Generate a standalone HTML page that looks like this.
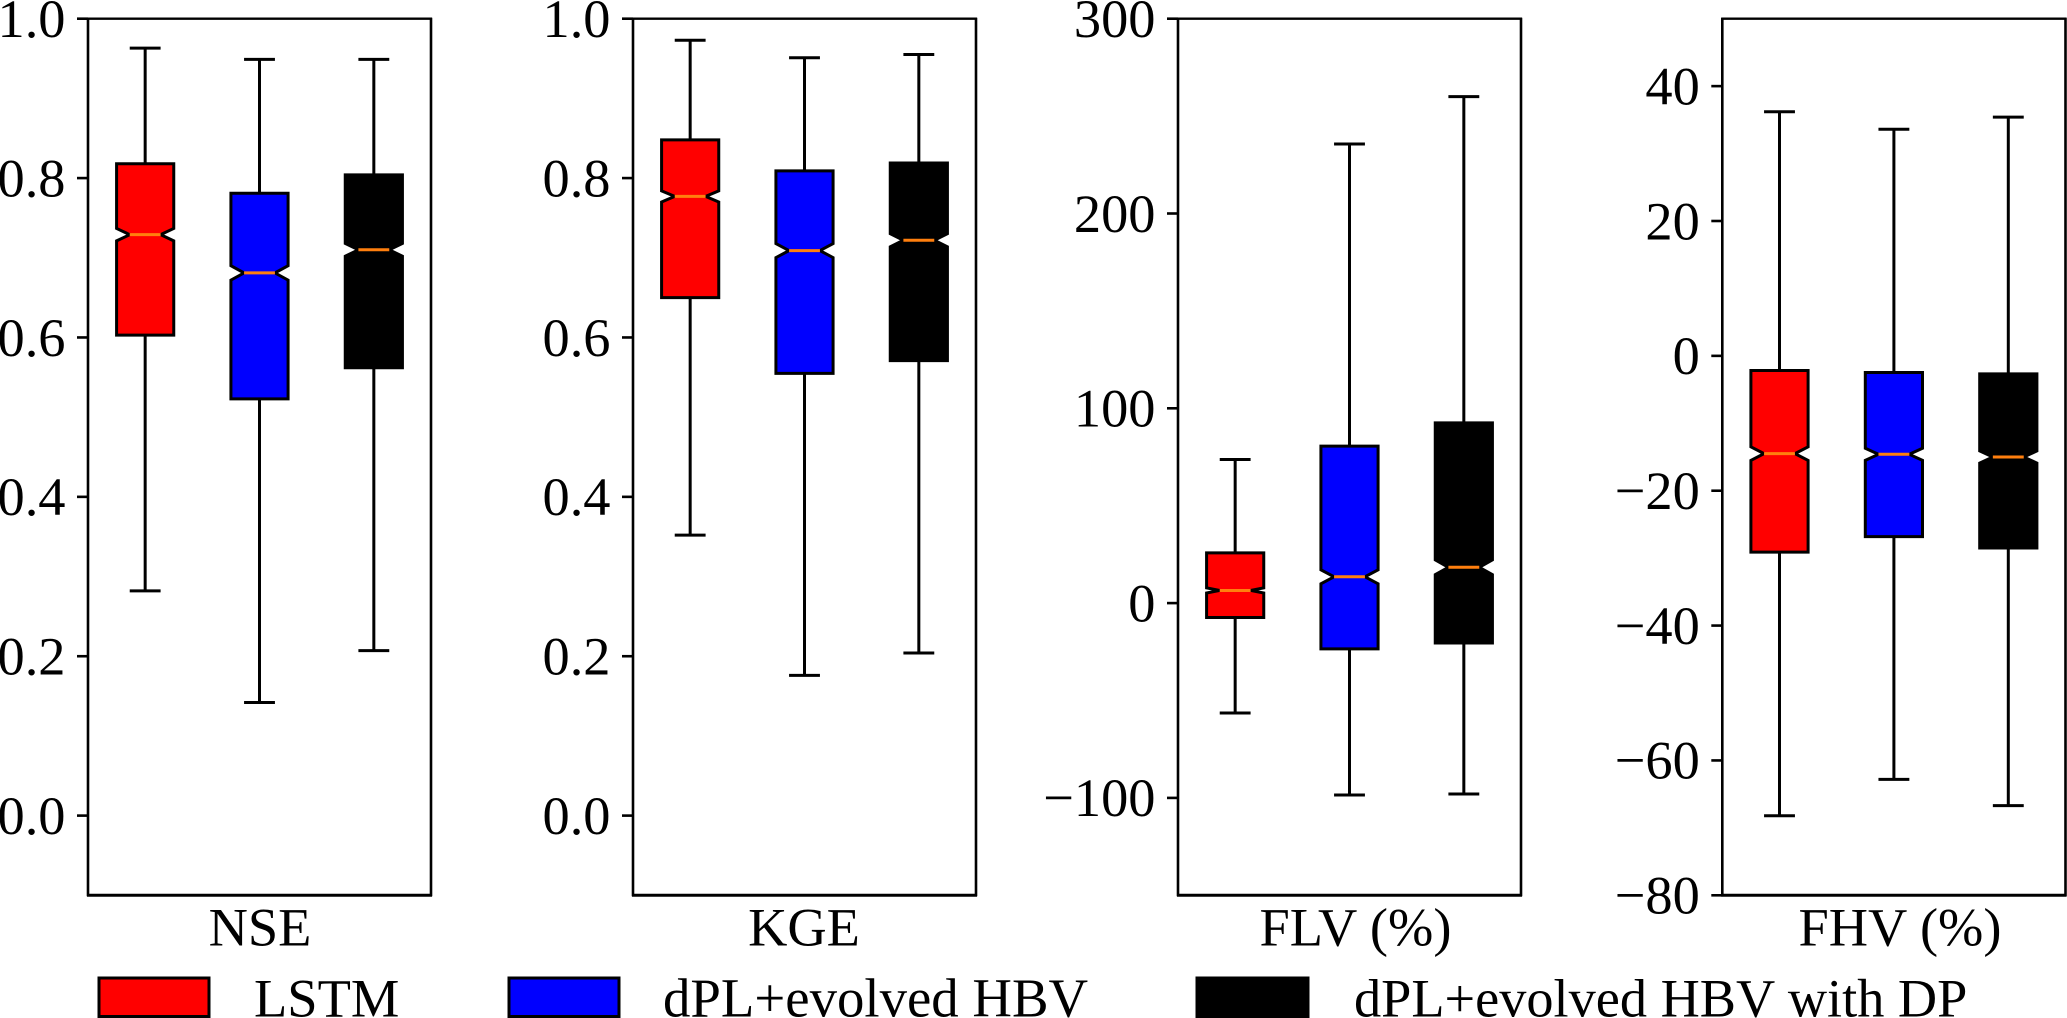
<!DOCTYPE html>
<html lang="en">
<head>
<meta charset="utf-8">
<title>Model metric box plots</title>
<style>
  html, body { margin: 0; padding: 0; background: #fff; width: 2067px; height: 1018px; overflow: hidden; }
  svg { display: block; }
  text { font-family: "Liberation Serif", "Times New Roman", serif; font-size: 54.4px; fill: #000; }
</style>
</head>
<body>
<svg id="chart" xmlns="http://www.w3.org/2000/svg" width="2067" height="1018" viewBox="0 0 2067 1018">
  <rect x="0" y="0" width="2067" height="1018" fill="#fff"/>
  <g id="panels"></g>

  <text x="260" y="945.5" text-anchor="middle">NSE</text>
  <text x="804" y="945.5" text-anchor="middle">KGE</text>
  <text x="1355.5" y="945.5" text-anchor="middle">FLV (%)</text>
  <text x="1900" y="945.5" text-anchor="middle">FHV (%)</text>

  <g>
    <g>
      <rect x="99" y="978" width="110" height="38.5" fill="#ff0000" stroke="#000" stroke-width="3"/>
      <text x="254" y="1016.5" style="font-size:54.5px">LSTM</text>
    </g>
    <g>
      <rect x="509" y="978" width="110" height="38.5" fill="#0000ff" stroke="#000" stroke-width="3"/>
      <text x="663" y="1016.5" style="font-size:54.8px">dPL+evolved HBV</text>
    </g>
    <g>
      <rect x="1197" y="978" width="111" height="38.5" fill="#000000" stroke="#000" stroke-width="3"/>
      <text x="1354" y="1016.5" style="font-size:54.3px">dPL+evolved HBV with DP</text>
    </g>
  </g>
</svg>

<script>
// ---- Data ----
const seriesNames = ['lstm', 'dpl-hbv', 'dpl-hbv-dp'];
const seriesColors = ['#ff0000', '#0000ff', '#000000'];

const nseTicks = ['0.0', '0.2', '0.4', '0.6', '0.8', '1.0'];
const nseHigh = [0.963, 0.949, 0.949];
const nseQ3 = [0.818, 0.781, 0.804];
const nseMedian = [0.729, 0.681, 0.710];
const nseQ1 = [0.603, 0.523, 0.562];
const nseLow = [0.282, 0.142, 0.207];
const nseNotch = [0.0078, 0.0090, 0.0080];

const kgeTicks = ['0.0', '0.2', '0.4', '0.6', '0.8', '1.0'];
const kgeHigh = [0.973, 0.951, 0.955];
const kgeQ3 = [0.848, 0.809, 0.819];
const kgeMedian = [0.777, 0.709, 0.722];
const kgeQ1 = [0.650, 0.555, 0.571];
const kgeLow = [0.352, 0.176, 0.204];
const kgeNotch = [0.0070, 0.0088, 0.0082];

const flvTicks = ['-100', '0', '100', '200', '300'];
const flvHigh = [73.7, 235.7, 260.0];
const flvQ3 = [25.8, 80.6, 92.5];
const flvMedian = [6.5, 13.5, 18.4];
const flvQ1 = [-7.4, -23.5, -20.5];
const flvLow = [-56.4, -98.5, -98.0];
const flvNotch = [1.3, 3.6, 3.8];

const fhvTicks = ['-80', '-60', '-40', '-20', '0', '20', '40'];
const fhvHigh = [36.2, 33.6, 35.4];
const fhvQ3 = [-2.17, -2.47, -2.67];
const fhvMedian = [-14.5, -14.6, -15.0];
const fhvQ1 = [-29.1, -26.8, -28.5];
const fhvLow = [-68.2, -62.8, -66.7];
const fhvNotch = [1.0, 0.9, 0.9];

// ---- Panel configuration ----
const panels = [
  { key: 'nse', left: 88, right: 431, yMin: -0.1, yMax: 1.0, ticks: nseTicks,
    high: nseHigh, q3: nseQ3, median: nseMedian, q1: nseQ1, low: nseLow, notch: nseNotch },
  { key: 'kge', left: 633, right: 976, yMin: -0.1, yMax: 1.0, ticks: kgeTicks,
    high: kgeHigh, q3: kgeQ3, median: kgeMedian, q1: kgeQ1, low: kgeLow, notch: kgeNotch },
  { key: 'flv', left: 1178, right: 1521, yMin: -150, yMax: 300, ticks: flvTicks,
    high: flvHigh, q3: flvQ3, median: flvMedian, q1: flvQ1, low: flvLow, notch: flvNotch },
  { key: 'fhv', left: 1722.3, right: 2065.5, yMin: -80, yMax: 50, ticks: fhvTicks,
    high: fhvHigh, q3: fhvQ3, median: fhvMedian, q1: fhvQ1, low: fhvLow, notch: fhvNotch }
];

const plotTop = 18.7;
const plotBottom = 895.3;
const SVGNS = 'http://www.w3.org/2000/svg';
const root = document.getElementById('panels');

function makeEl(tag, props, parent) {
  const el = document.createElementNS(SVGNS, tag);
  for (const k in props) el.setAttribute(k, props[k]);
  parent.appendChild(el);
  return el;
}

function yScale(p) {
  return function (v) {
    return plotTop + (p.yMax - v) / (p.yMax - p.yMin) * (plotBottom - plotTop);
  };
}

function xScale(p) {
  return function (pos) {
    return p.left + (pos - 0.5) / 3 * (p.right - p.left);
  };
}

function line(parent, x1, y1, x2, y2, color, width, name) {
  const el = makeEl('line', { x1: x1, y1: y1, x2: x2, y2: y2, stroke: color, 'stroke-width': width }, parent);
  
  
  return el;
}

function drawPanel(p) {
  const y = yScale(p);
  const x = xScale(p);
  const unit = x(2) - x(1);
  const boxHalf = unit * 0.25;
  const waistHalf = unit * 0.135;
  const capHalf = unit * 0.135;

  const g = makeEl('g', {}, root);
  
  

  // y axis ticks and labels
  p.ticks.forEach(function (label) {
    const value = parseFloat(label);
    const ty = y(value);
    line(g, p.left - 11, ty, p.left, ty, '#000', 2.6, 'y-tick-' + p.key + '-' + label);
    const t = makeEl('text', { x: p.left - 22.5, y: ty + 18.3, 'text-anchor': 'end' }, g);
    
    
    t.textContent = label.replace('-', '\u2212');
  });

  // boxes
  seriesNames.forEach(function (name, i) {
    const cx = x(i + 1);
    const box = makeEl('g', {}, g);
    
    

    line(box, cx, y(p.q3[i]), cx, y(p.high[i]), '#000', 3, 'whisker-high-' + p.key + '-' + name);
    line(box, cx, y(p.q1[i]), cx, y(p.low[i]), '#000', 3, 'whisker-low-' + p.key + '-' + name);
    line(box, cx - capHalf, y(p.high[i]), cx + capHalf, y(p.high[i]), '#000', 3, 'cap-high-' + p.key + '-' + name);
    line(box, cx - capHalf, y(p.low[i]), cx + capHalf, y(p.low[i]), '#000', 3, 'cap-low-' + p.key + '-' + name);

    const upper = y(p.median[i] + p.notch[i]);
    const mid = y(p.median[i]);
    const lower = y(p.median[i] - p.notch[i]);
    const top = y(p.q3[i]);
    const bottom = y(p.q1[i]);
    const pts = [
      [cx - boxHalf, top], [cx + boxHalf, top], [cx + boxHalf, upper],
      [cx + waistHalf, mid], [cx + boxHalf, lower], [cx + boxHalf, bottom],
      [cx - boxHalf, bottom], [cx - boxHalf, lower], [cx - waistHalf, mid],
      [cx - boxHalf, upper]
    ].map(function (pt) { return pt[0].toFixed(2) + ',' + pt[1].toFixed(2); }).join(' ');
    const poly = makeEl('polygon', {
      points: pts,
      fill: seriesColors[i],
      stroke: '#000',
      'stroke-width': 3,
      'stroke-linejoin': 'miter'
    }, box);
    
    

    line(box, cx - capHalf, mid, cx + capHalf, mid, '#ff7f0e', 3, 'median-' + p.key + '-' + name);
  });

  // spines
  line(g, p.left, plotTop - 1, p.left, plotBottom + 1, '#000', 2.6, 'spine-left-' + p.key);
  line(g, p.right, plotTop - 1, p.right, plotBottom + 1, '#000', 2.6, 'spine-right-' + p.key);
  line(g, p.left - 1, plotTop, p.right + 1, plotTop, '#000', 2.4, 'spine-top-' + p.key);
  line(g, p.left - 1, plotBottom, p.right + 1, plotBottom, '#000', 3, 'spine-bottom-' + p.key);
}

panels.forEach(drawPanel);
</script>
</body>
</html>
